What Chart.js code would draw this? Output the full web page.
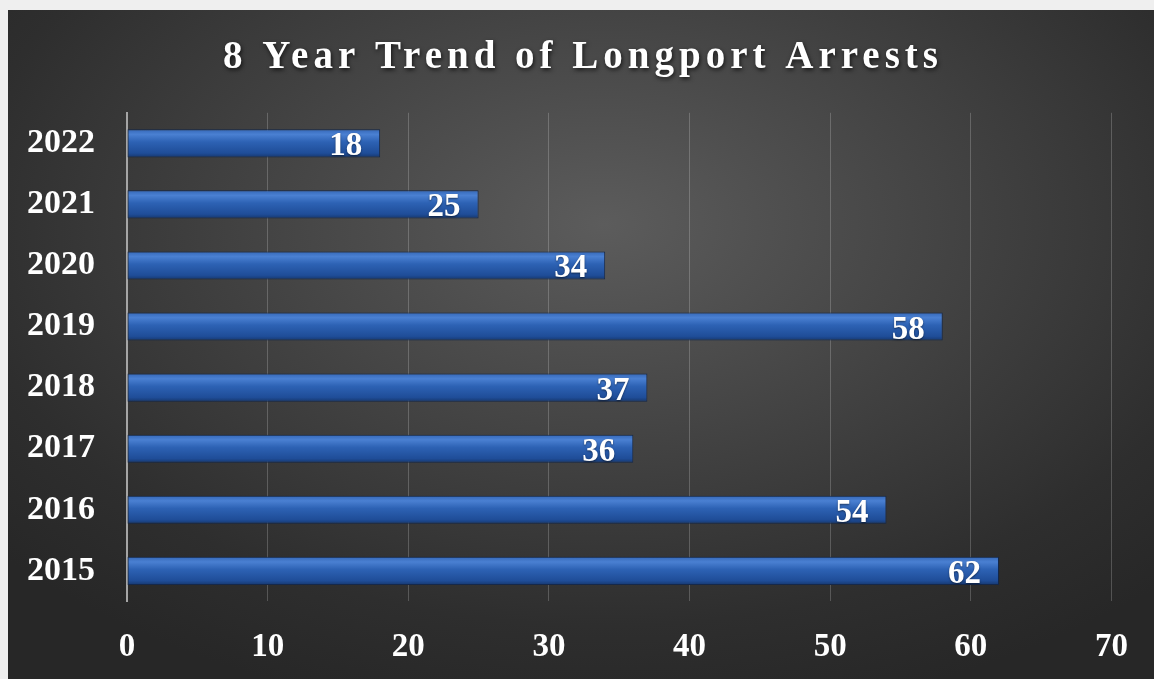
<!DOCTYPE html>
<html>
<head>
<meta charset="utf-8">
<script src="https://cdn.jsdelivr.net/npm/chart.js@4.4.1/dist/chart.umd.min.js"></script>
<style>
  html, body { margin: 0; padding: 0; background: #efefef; }
  #wrap {
    position: absolute; left: 8px; top: 10px; width: 1146px; height: 669px;
    background: radial-gradient(ellipse 70% 75% at 52% 32%, #5c5c5c 0%, #454545 40%, #2e2e2e 80%, #272727 100%);
  }
</style>
</head>
<body>
<div id="wrap"><canvas id="barChart" width="1146" height="669"></canvas></div>
<script>
// data
const years = ["2022", "2021", "2020", "2019", "2018", "2017", "2016", "2015"];
const arrests = [18, 25, 34, 58, 37, 36, 54, 62];
const xTicks = [0, 10, 20, 30, 40, 50, 60, 70];
const chartTitle = "8 Year Trend of Longport Arrests";

const serif = "'Liberation Serif', 'DejaVu Serif', serif";

// blue tube look for each bar
function barFill(context) {
    const chart = context.chart;
    const yScale = chart.scales.y;
    if (!chart.chartArea || !yScale) return "#2a5caa";
    const yc = yScale.getPixelForValue(context.dataIndex);
    const h = 14;
    const g = chart.ctx.createLinearGradient(0, yc - h, 0, yc + h);
    g.addColorStop(0, "#3568b8");
    g.addColorStop(0.18, "#4a80d2");
    g.addColorStop(0.45, "#2d62b4");
    g.addColorStop(0.85, "#1f4d98");
    g.addColorStop(1, "#16386f");
    return g;
}

// letter spaced title with a soft shadow, centred on the whole canvas
const titleStyle = {
    id: "titleStyle",
    beforeDraw(chart) {
        const tb = chart.titleBlock;
        if (tb && !tb._styled) {
            const orig = tb.draw.bind(tb);
            tb.draw = function () {
                const ctx = chart.ctx;
                ctx.save();
                ctx.translate(chart.width / 2 - (tb.left + tb.right) / 2 + 2, 0);
                ctx.letterSpacing = "5px";
                ctx.shadowColor = "rgba(0,0,0,0.7)";
                ctx.shadowBlur = 4;
                ctx.shadowOffsetX = 1;
                ctx.shadowOffsetY = 2;
                orig();
                ctx.restore();
            };
            tb._styled = true;
        }
    }
};

// value labels inside the bar end
const valueLabels = {
    id: "valueLabels",
    afterDatasetsDraw(chart) {
        const ctx = chart.ctx;
        const meta = chart.getDatasetMeta(0);
        ctx.save();
        ctx.font = "bold 33px " + serif;
        ctx.fillStyle = "#ffffff";
        ctx.textAlign = "right";
        ctx.textBaseline = "alphabetic";
        ctx.shadowColor = "rgba(0,0,0,0.5)";
        ctx.shadowBlur = 2;
        ctx.shadowOffsetY = 1;
        meta.data.forEach((bar, i) => {
            ctx.fillText(String(arrests[i]), bar.x - 18, bar.y + 12);
        });
        ctx.restore();
    }
};

new Chart(document.getElementById("barChart"), {
    type: "bar",
    data: {
        labels: years,
        datasets: [{
            data: arrests,
            backgroundColor: barFill,
            borderColor: "#15284a",
            borderWidth: 1,
            borderSkipped: false,
            barPercentage: 0.46,
            categoryPercentage: 1
        }]
    },
    options: {
        indexAxis: "y",
        responsive: false,
        animation: false,
        layout: { padding: { left: -13, right: 34, top: 0, bottom: -14 } },
        plugins: {
            legend: { display: false },
            tooltip: { enabled: false },
            title: {
                display: true,
                text: chartTitle,
                color: "#ffffff",
                font: { family: serif, size: 39, weight: "bold", lineHeight: 1.2 },
                padding: { top: 25, bottom: 31 }
            }
        },
        scales: {
            x: {
                min: 0,
                max: 70,
                afterBuildTicks: axis => { axis.ticks = xTicks.map(v => ({ value: v })); },
                grid: { color: "rgba(255,255,255,0.2)", lineWidth: 1, drawTicks: false },
                border: { display: false },
                ticks: {
                    color: "#ffffff",
                    padding: 26,
                    font: { family: serif, size: 33, weight: "bold", lineHeight: 1.2 }
                }
            },
            y: {
                grid: { display: false, drawTicks: false },
                border: { color: "#a5a5a5", width: 2 },
                ticks: {
                    color: "#ffffff",
                    padding: 32,
                    font: { family: serif, size: 34, weight: "bold", lineHeight: 1.2 }
                }
            }
        }
    },
    plugins: [titleStyle, valueLabels]
});
</script>
</body>
</html>
